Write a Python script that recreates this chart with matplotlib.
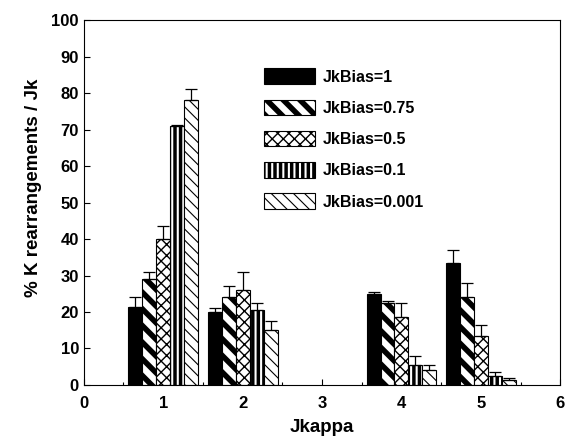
import numpy as np
import matplotlib.pyplot as plt
from matplotlib.ticker import MultipleLocator

plt.rcParams['font.family'] = ['Liberation Sans', 'DejaVu Sans']
plt.rcParams['font.weight'] = 'bold'

jkappa = [1, 2, 4, 5]
labels = ['JkBias=1', 'JkBias=0.75', 'JkBias=0.5', 'JkBias=0.1', 'JkBias=0.001']

# percent of K rearrangements, one list per JkBias
vals = [
    [21.5, 20.0, 25.0, 33.5],
    [29.0, 24.0, 22.5, 24.0],
    [40.0, 26.0, 18.5, 13.5],
    [71.0, 20.5, 5.5, 2.5],
    [78.0, 15.0, 4.0, 1.5],
]
# upper error bars
errs = [
    [2.5, 1.0, 0.5, 3.5],
    [2.0, 3.0, 0.5, 4.0],
    [3.5, 5.0, 4.0, 3.0],
    [0.3, 2.0, 2.5, 1.0],
    [3.0, 2.5, 1.5, 0.5],
]

hatches = [None, '\\\\', 'xxx', '|||', '\\\\\\']
hatch_lw = [1.0, 4.0, 1.0, 2.5, 0.8]

fig = plt.figure(figsize=(5.66, 4.36), dpi=100)
ax = fig.add_axes([0.148, 0.117, 0.842, 0.837])

width = 0.176
x = np.array(jkappa, dtype=float)
for i in range(5):
    pos = x + (i - 2) * width
    with plt.rc_context({'hatch.linewidth': hatch_lw[i]}):
        ax.bar(pos, vals[i], width, color='black' if i == 0 else 'white',
               edgecolor='black', linewidth=0.8, hatch=hatches[i],
               label=labels[i], zorder=2)
    yerr = np.array([np.zeros(4), errs[i]])
    ax.errorbar(pos, vals[i], yerr=yerr, fmt='none', ecolor='black',
                elinewidth=0.9, capsize=4, capthick=0.9, zorder=3)

ax.set_xlim(0, 6)
ax.set_ylim(0, 100)
ax.xaxis.set_major_locator(MultipleLocator(1))
ax.xaxis.set_minor_locator(MultipleLocator(0.5))
ax.yaxis.set_major_locator(MultipleLocator(10))
ax.tick_params(which='both', direction='in', labelsize=12, width=0.8)
ax.tick_params(which='major', length=4)
ax.tick_params(axis='x', pad=8)
ax.tick_params(which='minor', length=2)
for s in ax.spines.values():
    s.set_linewidth(0.8)

ax.set_xlabel('Jkappa', fontsize=13.5, fontweight='bold', labelpad=5.5)
ax.set_ylabel('% K rearrangements / Jk', fontsize=13.5, fontweight='bold')
ax.yaxis.set_label_coords(-0.088, 0.54)

leg = ax.legend(loc='upper left', bbox_to_anchor=(0.365, 0.885), frameon=False,
                fontsize=11.5, handlelength=3.2, handleheight=1.1,
                labelspacing=0.95, handletextpad=0.5, borderaxespad=0)
for h, lw in zip(leg.legend_handles, hatch_lw):
    h.set_hatch_linewidth(lw)

fig.savefig('out.png', dpi=100)
